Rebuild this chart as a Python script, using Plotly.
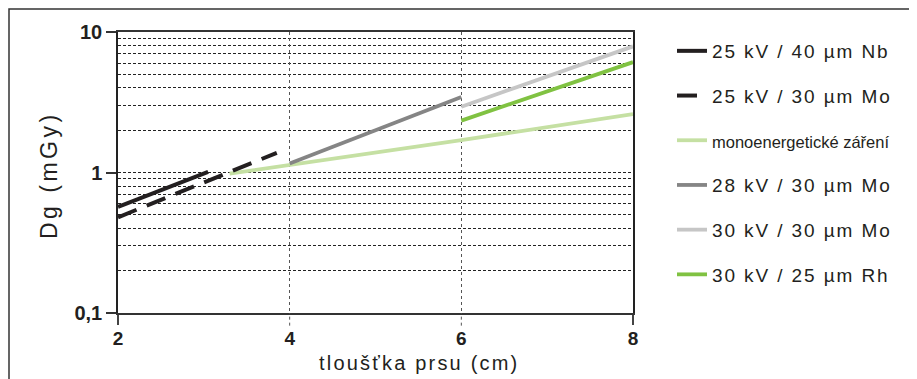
import plotly.graph_objects as go

# --- data ---
nb40_x = [2, 3.05]
nb40_y = [0.57, 1.01]

mo30_25_x = [2, 3.85]
mo30_25_y = [0.48, 1.38]

mono_x = [3.3, 4, 6, 8]
mono_y = [0.98, 1.13, 1.70, 2.60]

mo30_28_x = [4, 6]
mo30_28_y = [1.16, 3.45]

mo30_30_x = [6, 8]
mo30_30_y = [2.94, 7.9]

rh25_30_x = [6, 8]
rh25_30_y = [2.34, 6.1]

series_names = [
    "25 kV / 40 µm Nb",
    "25 kV / 30 µm Mo",
    "monoenergetické záření",
    "28 kV / 30 µm Mo",
    "30 kV / 30 µm Mo",
    "30 kV / 25 µm Rh",
]

x_ticks = [2, 4, 6, 8]
x_tick_text = ["2", "4", "6", "8"]
y_ticks = [0.1, 1, 10]
y_tick_text = ["0,1", "1", "10"]
y_minor = [0.2, 0.3, 0.4, 0.5, 0.6, 0.7, 0.8, 0.9, 2, 3, 4, 5, 6, 7, 8, 9]

FONT = "Liberation Sans, Arial, sans-serif"
INK = "#231f20"

# plot area in page pixels (page body has an ~8px offset)
OFF = 8
PL, PR, PT, PB = 118, 633, 32, 313
PW, PH = PR - PL, PB - PT

def spaced(t, ls="2px"):
    return f'<span style="letter-spacing:{ls}">{t}</span>'

styles = [
    dict(color=INK, width=4, dash="solid"),
    dict(color=INK, width=4, dash="20px,11px"),
    dict(color="#c5e0a3", width=3.8, dash="solid"),
    dict(color="#858585", width=3.8, dash="solid"),
    dict(color="#c6c6c6", width=3.8, dash="solid"),
    dict(color="#80c242", width=3.8, dash="solid"),
]
xs = [nb40_x, mo30_25_x, mono_x, mo30_28_x, mo30_30_x, rh25_30_x]
ys = [nb40_y, mo30_25_y, mono_y, mo30_28_y, mo30_30_y, rh25_30_y]

fig = go.Figure()
order = [2, 3, 4, 5, 0, 1]
for i in order:
    name = series_names[i]
    if i == 2:
        label = f'<span style="font-size:16.5px">{name}</span>'
    else:
        label = spaced(name, "1.9px")
    fig.add_trace(go.Scatter(
        x=xs[i], y=ys[i], mode="lines", name=label,
        line=styles[i], legendgroup=f"g{i}", legendrank=i + 1,
        hoverinfo="skip",
    ))

fig.update_layout(
    width=917, height=379,
    margin=dict(l=PL - OFF, r=917 - (PL - OFF) - PW, t=PT - OFF, b=379 - (PT - OFF) - PH),
    paper_bgcolor="white", plot_bgcolor="white",
    font=dict(family=FONT, color=INK, size=18),
    showlegend=True,
    legend=dict(
        x=(672 - PL) / PW, xanchor="left", y=(PB - 32) / PH, yanchor="top",
        font=dict(family=FONT, size=19, color=INK),
        tracegroupgap=17, bgcolor="rgba(0,0,0,0)",
        traceorder="grouped",
    ),
)

fig.update_xaxes(
    range=[2, 8], tickmode="array", tickvals=x_ticks,
    ticktext=[f"<b>{t}</b>" for t in x_tick_text],
    ticks="", ticklabelstandoff=7,
    tickfont=dict(family=FONT, size=19, color=INK),
    showgrid=True, gridcolor="#555", gridwidth=1, griddash="dot",
    showline=True, linecolor="#333", linewidth=1.5, mirror=True,
    zeroline=False,
    minor=dict(tickmode="array", tickvals=[2, 8], ticks="outside",
               ticklen=10, tickwidth=1.5, tickcolor="#444", showgrid=False),
)
fig.update_yaxes(
    type="log", range=[-1, 1], tickmode="array", tickvals=y_ticks,
    ticktext=[f"<b>{t}</b>" for t in y_tick_text],
    ticks="outside", ticklen=10, tickwidth=1.5, tickcolor="#333",
    tickfont=dict(family=FONT, size=20, color=INK),
    showgrid=True, gridcolor="#222", gridwidth=1, griddash="3px,2px",
    showline=True, linecolor="#222", linewidth=1.5, mirror=True,
    zeroline=False,
    minor=dict(tickmode="array", tickvals=y_minor, ticks="",
               showgrid=True, gridcolor="#222", gridwidth=1, griddash="3px,2px"),
)

# dotted grid extensions below the x axis at 4 and 6
for xv in [4, 6]:
    fig.add_shape(type="line", xref="x", yref="paper", x0=xv, x1=xv, y0=-0.045, y1=0,
                  line=dict(color="#555", width=1, dash="dot"))

# outer frame
fig.add_shape(type="rect", xref="paper", yref="paper",
              x0=(9 - PL) / PW, x1=3, y0=-1, y1=(PB - 9) / PH,
              line=dict(color="#333", width=1.5), fillcolor="rgba(0,0,0,0)", layer="below")

# axis titles
fig.add_annotation(xref="paper", yref="paper", x=(419 - PL) / PW, y=(PB - 363) / PH,
                   text=spaced("tloušťka prsu (cm)", "2.2px"), showarrow=False,
                   font=dict(family=FONT, size=20, color=INK), xanchor="center", yanchor="middle")
fig.add_annotation(xref="paper", yref="paper", x=(49 - PL) / PW, y=(PB - 175) / PH,
                   text=spaced("Dg (mGy)", "3.5px"), showarrow=False, textangle=-90,
                   font=dict(family=FONT, size=23, color=INK), xanchor="center", yanchor="middle")

fig.write_html("out.html")
